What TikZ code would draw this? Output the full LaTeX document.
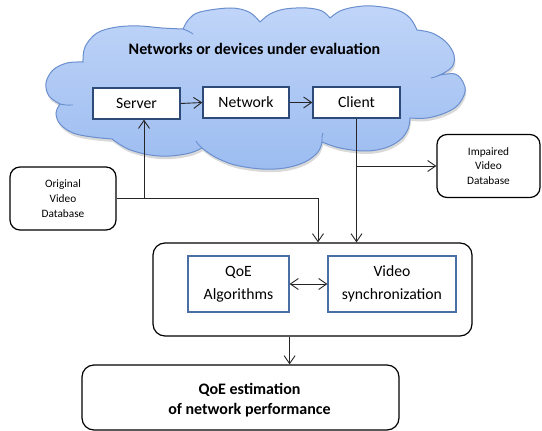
\documentclass[tikz,border=0pt]{standalone}
\usepackage{fontspec}
\setmainfont{Carlito}
\usetikzlibrary{arrows.meta,calc}
\definecolor{cloudtop}{HTML}{C0D5F8}
\definecolor{cloudbot}{HTML}{9CBCF0}
\definecolor{cloudline}{HTML}{6A8FCF}
\definecolor{navy}{HTML}{2E4A78}
\definecolor{steel}{HTML}{4A6FA5}
\definecolor{arrowgray}{HTML}{262626}
\newcommand\cloudshape{%
 plot[smooth,tension=0.6] coordinates {(60,104) (49,96) (46,83) (53,70) (67,63) (83,62)}
 -- plot[smooth,tension=0.6] coordinates {(83,62) (85,47) (97,33) (117,27) (140,26) (162,28) (183,29)}
 -- plot[smooth,tension=0.6] coordinates {(183,29) (189,19) (200,12) (230,8) (249,12) (260,22)}
 -- plot[smooth,tension=0.6] coordinates {(260,22) (270,14) (285,9) (307,8) (322,11) (330,18)}
 -- plot[smooth,tension=0.6] coordinates {(330,18) (340,11) (355,7) (373,6) (397,10) (410,18) (417,30)}
 -- plot[smooth,tension=0.6] coordinates {(417,30) (432,33) (446,42) (454,55) (452,67) (440,75)}
 -- plot[smooth,tension=0.6] coordinates {(440,75) (455,74) (463,82) (465,92) (458,105) (445,113) (427,118) (410,118)}
 -- plot[smooth,tension=0.6] coordinates {(410,118) (408,129) (400,140) (385,148) (365,151) (340,148) (322,142)}
 -- plot[smooth,tension=0.6] coordinates {(322,142) (318,152) (305,162) (285,168) (262,169) (235,165) (215,157) (202,148)}
 -- plot[smooth,tension=0.6] coordinates {(202,148) (190,153) (170,156) (150,155) (128,149) (112,139)}
 -- plot[smooth,tension=0.6] coordinates {(112,139) (92,137) (73,133) (60,124) (56,113) (60,104)}
 -- cycle}
\tikzset{
  cloudfill/.style={draw=cloudline, line width=1pt, top color=cloudtop, bottom color=cloudbot},
  cloudinner/.style={draw=cloudline, line width=0.9pt},
  inbox/.style={draw=navy, line width=1.3pt, fill=white, inner sep=0pt,
    font=\fontsize{15.7}{18}\selectfont},
  dbbox/.style={draw, rounded corners=10pt, line width=1.2pt, fill=white, inner sep=0pt,
    align=center, font=\fontsize{11.3}{14.7}\selectfont},
  qbox/.style={draw=steel, line width=1.2pt, fill=white, inner sep=0pt,
    align=center, font=\fontsize{15.7}{22.7}\selectfont},
  bigbox/.style={draw, rounded corners=12pt, line width=1.2pt, inner sep=0pt},
  conn/.style={draw=arrowgray, line width=0.9pt, -{Straight Barb[length=8pt,width=11pt]}},
  conntwo/.style={draw=arrowgray, line width=0.9pt, {Straight Barb[length=8pt,width=11pt]}-{Straight Barb[length=8pt,width=11pt]}}
}
\begin{document}
\begin{tikzpicture}[x=1pt,y=-1pt]
\useasboundingbox (0,0) rectangle (542,431);
% cloud with a soft shadow
\fill[black, opacity=0.15, shift={(1,3)}] \cloudshape;
\path[cloudfill] \cloudshape;
\draw[cloudinner] plot[smooth] coordinates {(183,29) (188,31) (193,34)};
\draw[cloudinner] plot[smooth] coordinates {(440,75) (435,77) (431,78)};
\draw[cloudinner] plot[smooth] coordinates {(322,142) (322,137) (323,133)};
\draw[cloudinner] plot[smooth] coordinates {(60,104) (66,105) (73,105)};
\draw[cloudinner] plot[smooth] coordinates {(202,148) (198,144) (196,141)};
\node[font=\bfseries\fontsize{16}{19}\selectfont] (title) at (254.5,49) {Networks or devices under evaluation};
% boxes in the cloud
\node[inbox, minimum width=87pt, minimum height=31pt] (server) at (136.5,103.5) {Server};
\node[inbox, minimum width=86pt, minimum height=31pt] (network) at (246,102.5) {Network};
\node[inbox, minimum width=87pt, minimum height=31pt] (client) at (356.5,102.5) {Client};
% databases
\node[dbbox, minimum width=106pt, minimum height=63pt] (odb) at (63,198.5) {Original\\Video\\Database};
\node[dbbox, minimum width=103pt, minimum height=63pt] (imp) at (488.5,166) {Impaired\\Video\\Database};
% evaluation box
\node[bigbox, minimum width=319pt, minimum height=93pt] (big) at (312.5,289.5) {};
\node[qbox, minimum width=101pt, minimum height=56pt] (qoe) at (238.5,284) {QoE\\Algorithms};
\node[qbox, minimum width=128pt, minimum height=56pt] (vsync) at (392,284) {Video\\synchronization};
% estimation box
\node[bigbox, minimum width=317pt, minimum height=65pt] (est) at (240.5,397.5) {};
\node[font=\bfseries\fontsize{16}{19.3}\selectfont, align=center] (esttext) at (249.5,400) {QoE estimation\\of network performance};
% connectors
\coordinate (xs) at (144,0);
\coordinate (xd) at (318,0);
\draw[conn] (server.east) -- (network.west);
\draw[conn] (network.east) -- (client.west);
\draw[conn] (odb.east) -| (xd |- big.north);
\draw[conn] (odb.east -| xs) -- (server.south -| xs);
\draw[conn] (client.south) -- (client.south |- big.north);
\draw[conn] (client.south |- imp.west) -- (imp.west);
\draw[conntwo] (qoe.east) -- (vsync.west);
\draw[conn] (qoe.east |- big.south) -- (qoe.east |- est.north);
\end{tikzpicture}
\end{document}
